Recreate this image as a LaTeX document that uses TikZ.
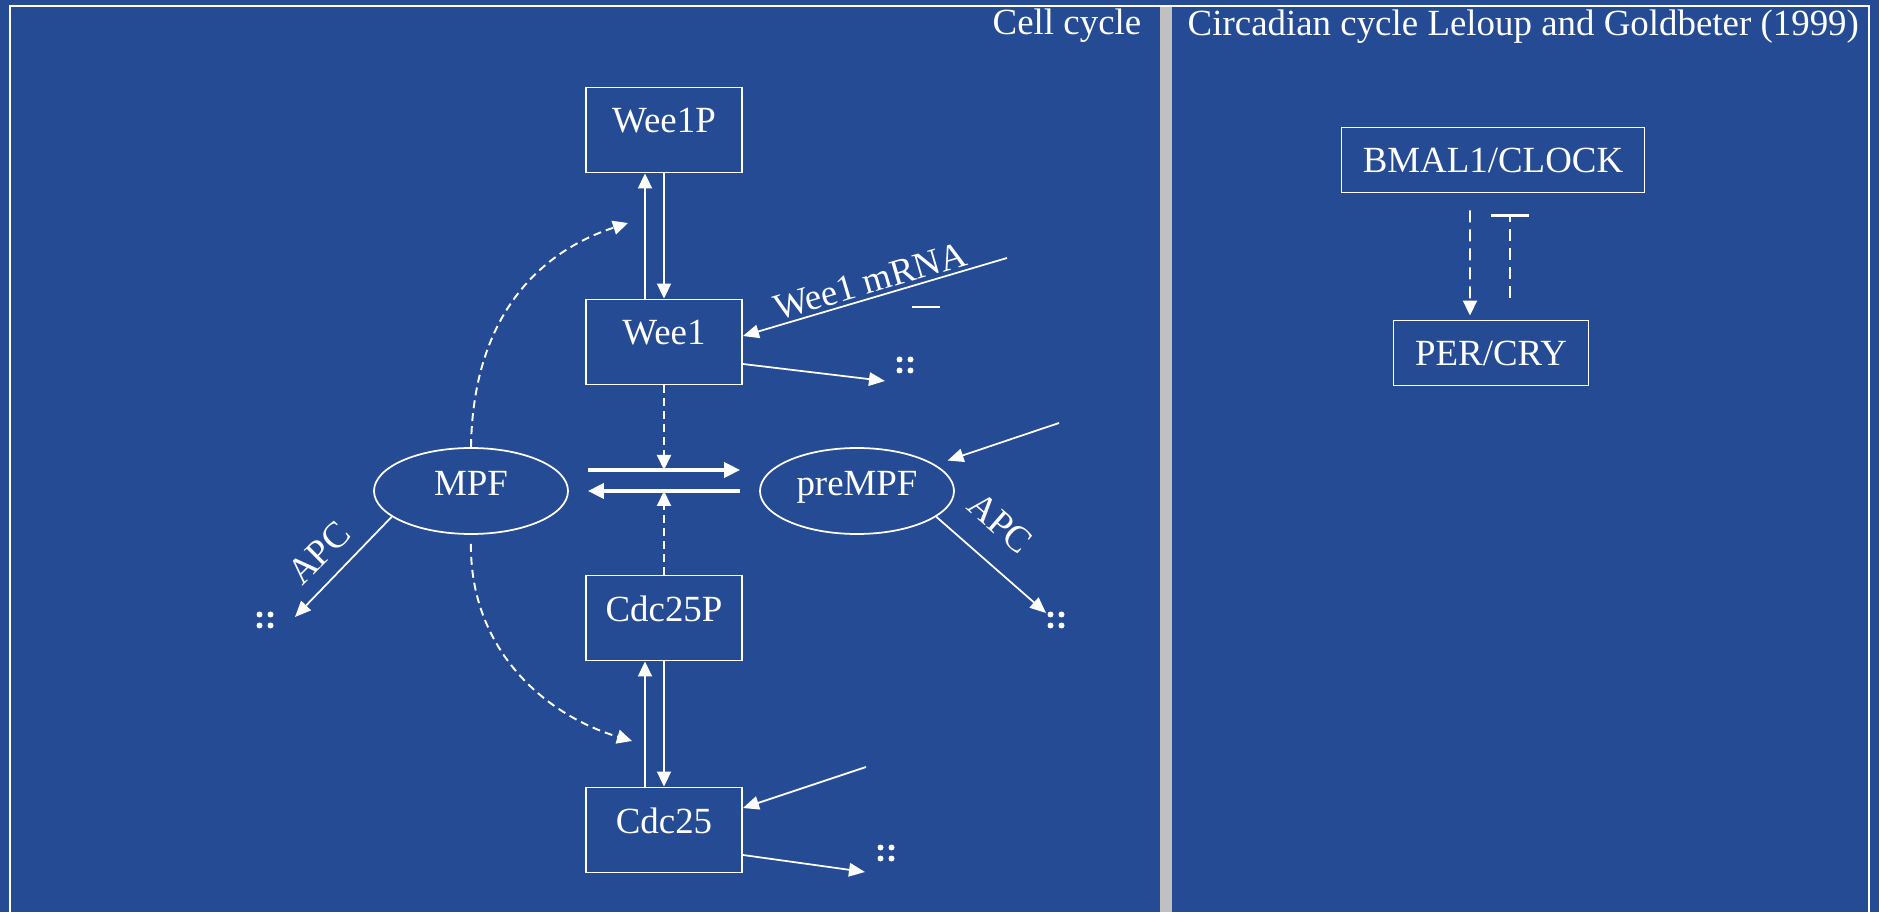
\documentclass[tikz,border=0pt]{standalone}
\usepackage{fontspec}
\setmainfont{Liberation Serif}
\usetikzlibrary{arrows.meta,shapes.geometric}
\definecolor{slideblue}{RGB}{36,75,148}
\definecolor{bargrey}{RGB}{192,192,192}

\begin{document}
\begin{tikzpicture}[x=0.1mm,y=-0.1mm,
		every node/.style={text=white,font=\fontsize{10.5pt}{12.6pt}\selectfont},
		species/.style={draw=white,line width=0.55pt,minimum width=15.6mm,minimum height=8.5mm,text height=2.7mm,text depth=2.1mm,inner sep=0pt},
		pool/.style={ellipse,draw=white,line width=0.5pt,minimum width=19.4mm,minimum height=8.6mm,text height=2.7mm,text depth=1.8mm,inner sep=0pt},
		gene/.style={draw=white,line width=0.55pt,minimum height=6.5mm,inner sep=0pt},
		sink/.style={inner sep=0pt,minimum size=1.7mm,path picture={
				\foreach \dx in {-1,1} \foreach \dy in {-1,1}
				\fill[white] ([shift={(\dx*0.55mm,\dy*0.55mm)}]path picture bounding box.center) circle (0.3mm);}},
		flow/.style={white,line width=0.6pt,-{Triangle[length=1.5mm,width=1.4mm]}},
		thinarr/.style={white,line width=0.5pt,-{Triangle[length=1.6mm,width=1.35mm]}},
		trans/.style={white,line width=1.05pt,-{Triangle[length=1.6mm,width=1.5mm]}},
		effect/.style={white,line width=0.55pt,dash pattern=on 0.8mm off 0.5mm,-{Triangle[length=1.5mm,width=1.4mm]}},
		repress/.style={white,line width=0.6pt,dash pattern=on 1.2mm off 0.7mm,-{Bar[width=3.8mm,line width=0.7pt]}}]
		% slide background and panels
		\fill[slideblue] (0,0) rectangle (1879,912);
		\fill[bargrey] (1160,6) rectangle (1172,912);
		\draw[white,line width=0.6pt] (10,912) -- (10,6) -- (1869,6) -- (1869,912);
		\node[anchor=base east,inner sep=0pt] (celltitle) at (1142,35) {Cell cycle};
		\node[anchor=base west,inner sep=0pt] (clocktitle) at (1187,36) {Circadian cycle Leloup and Goldbeter (1999)};
		% cell cycle
		\node[species] (wee1p) at (664,130) {Wee1P};
		\node[species] (wee1) at (664,342) {Wee1};
		\node[species] (cdc25p) at (664,618) {Cdc25P};
		\node[species] (cdc25) at (664,830) {Cdc25};
		\node[pool] (mpf) at (471,491) {MPF};
		\node[pool] (prempf) at (857,491) {preMPF};
		\node[sink] (weesink) at (905,365) {};
		\node[sink] (cdcsink) at (886,853) {};
		\node[sink] (presink) at (1056,620) {};
		\node[sink] (mpfsink) at (265,620) {};
		\coordinate (mrna) at (1007,258);
		\coordinate (weedeg) at (885,381);
		\coordinate (cdcin) at (866,767);
		\coordinate (cdcdeg) at (865,872);
		\coordinate (prein) at (1059,423);
		\coordinate (predeg) at (1046,613);
		\coordinate (mpfdeg) at (295,617);
		\coordinate (fwdmid) at (664,470);
		\coordinate (bwdmid) at (664,491);
		\coordinate (weetgt) at (628,223);
		\coordinate (cdctgt) at (632,741);
		\draw[flow] ([xshift=-1.9mm]wee1.north) -- ([xshift=-1.9mm]wee1p.south);
		\draw[flow] (wee1p.south) -- (wee1.north);
		\draw[flow] ([xshift=-1.9mm]cdc25.north) -- ([xshift=-1.9mm]cdc25p.south);
		\draw[flow] (cdc25p.south) -- (cdc25.north);
		\draw[trans,shorten <=1.9mm,shorten >=1.9mm] ([yshift=2.1mm]mpf.east) -- ([yshift=2.1mm]prempf.west);
		\draw[trans,shorten <=1.9mm,shorten >=1.9mm] (prempf.west) -- (mpf.east);
		\draw[effect] (wee1) -- (fwdmid);
		\draw[effect] (cdc25p) -- (bwdmid);
		\draw[effect] (mpf.north) .. controls (473,310) and (545,250) .. (weetgt);
		\draw[effect,shorten <=0.9mm] (mpf.south) .. controls (470,650) and (545,715) .. (cdctgt);
		\draw[thinarr] (mrna) -- node[sloped,above,inner sep=0.3mm] (mrnalabel) {Wee1 mRNA} ([yshift=0.6mm]wee1.east);
		\draw[white,line width=0.5pt] (912,307) -- (940,307);
		\draw[thinarr] ([yshift=-2.2mm]wee1.east) -- (weedeg);
		\draw[thinarr] (cdcin) -- ([yshift=2.2mm]cdc25.east);
		\draw[thinarr] ([yshift=-2.5mm]cdc25.east) -- (cdcdeg);
		\draw[thinarr,shorten >=1.3mm] (prein) -- (prempf);
		\draw[thinarr] (prempf.-18) -- (predeg);
		\draw[thinarr] (mpf.198) -- (mpfdeg);
		\node[rotate=-41] (apcpre) at (1000,523) {APC};
		\node[rotate=45] (apcmpf) at (319,553) {APC};
		% circadian clock
		\node[gene,minimum width=30.3mm] (bmal) at (1493,160) {BMAL1/CLOCK};
		\node[gene,minimum width=19.5mm] (percry) at (1491,353) {PER/CRY};
		\draw[effect,dash pattern=on 1.2mm off 0.7mm,shorten <=1.7mm,shorten >=0.4mm] ([xshift=-2.3mm]bmal.south) -- ([xshift=-2.1mm]percry.north);
		\draw[repress,shorten <=2.2mm,shorten >=2.1mm] ([xshift=1.9mm]percry.north) -- ([xshift=1.7mm]bmal.south);
	\end{tikzpicture}
\end{document}
